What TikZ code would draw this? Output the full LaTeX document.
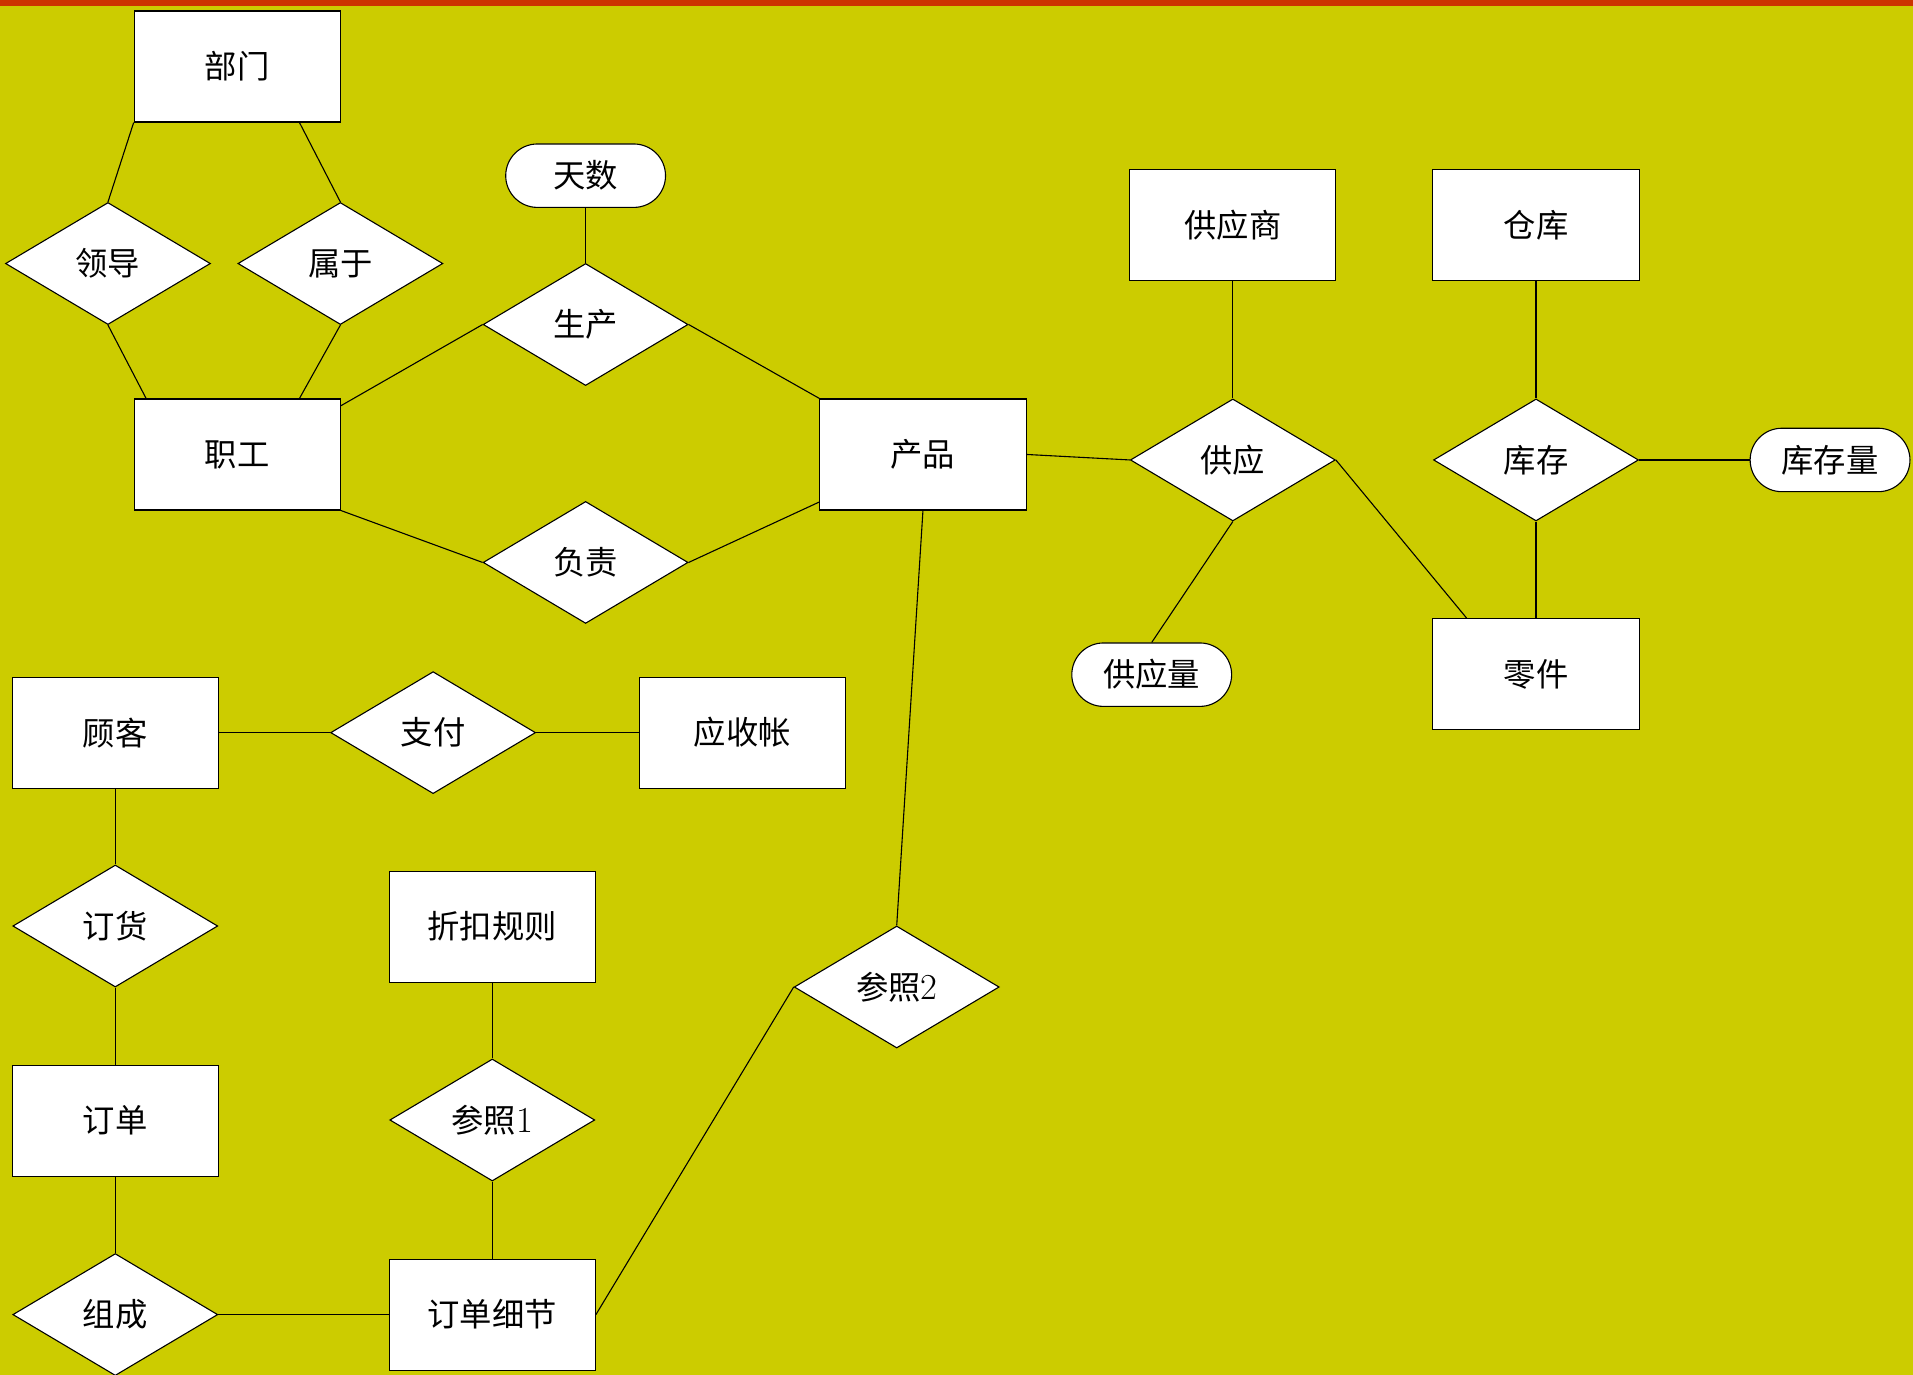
\documentclass[tikz,border=0pt]{standalone}
\usepackage{fontspec}
\newfontfamily\cjk{Noto Sans CJK SC}
\usetikzlibrary{shapes.geometric,shapes.misc,calc}
\definecolor{bgc}{HTML}{CCCC00}
\definecolor{barc}{HTML}{CC3300}
\tikzset{
  base/.style={draw=black, fill=white, line width=0.9pt, inner sep=0pt,
    font=\cjk\fontsize{26.5}{30}\selectfont},
  entity/.style={base, rectangle, minimum width=169pt, minimum height=91pt},
  rel/.style={base, diamond, minimum width=168pt, minimum height=100pt},
  attr/.style={base, rounded rectangle, minimum width=131pt, minimum height=52pt},
  link/.style={draw=black, line width=0.9pt}
}
\newcommand\digit[1]{{\rmfamily\fontsize{30}{30}\selectfont #1}}
\begin{document}
\begin{tikzpicture}[x=1pt,y=-1pt]
\fill[bgc] (0,0) rectangle (1568,1127);
\fill[barc] (0,0) rectangle (1568,5);
\useasboundingbox (0,0) rectangle (1568,1127);

% entities
\node[entity] (bm)  at (194.5,54.5)  {部门};
\node[entity] (zg)  at (194.5,372.5) {职工};
\node[entity] (cp)  at (756.5,372.5) {产品};
\node[entity] (gys) at (1010.5,184.5) {供应商};
\node[entity] (ck)  at (1259,184.5)  {仓库};
\node[entity] (lj)  at (1259,552.5)  {零件};
\node[entity] (gk)  at (94.5,600.5)  {顾客};
\node[entity] (ys)  at (608.5,600.5) {应收帐};
\node[entity] (zk)  at (403.5,759.5) {折扣规则};
\node[entity] (dd)  at (94.5,918.5)  {订单};
\node[entity] (ddx) at (403.5,1077.5) {订单细节};

% relationships
\node[rel] (ld)  at (88.5,216)   {领导};
\node[rel] (sy)  at (279,216)    {属于};
\node[rel] (sc)  at (480,266)    {生产};
\node[rel] (fz)  at (480,461)    {负责};
\node[rel] (gy)  at (1010.5,377) {供应};
\node[rel] (kc)  at (1259,377)   {库存};
\node[rel] (zf)  at (355,600.5)  {支付};
\node[rel] (dh)  at (94.5,759)   {订货};
\node[rel] (cz1) at (403.5,918)  {参照\digit{1}};
\node[rel] (zc)  at (94.5,1077.5) {组成};
\node[rel] (cz2) at (735,809)    {参照\digit{2}};

% attributes
\node[attr] (ts)  at (480,144)   {天数};
\node[attr] (gyl) at (944,553)   {供应量};
\node[attr] (kcl) at (1500,377)  {库存量};

% connectors
\draw[link] (bm.south west) -- (ld.north);
\draw[link] ($(bm.south west)!0.8!(bm.south east)$) -- (sy.north);
\draw[link] (ld.south) -- ($(zg.north west)!0.06!(zg.north east)$);
\draw[link] (sy.south) -- ($(zg.north west)!0.8!(zg.north east)$);
\draw[link] ($(zg.north east)+(0,6)$) -- (sc.west);
\draw[link] (sc.east) -- (cp.north west);
\draw[link] (ts.south) -- (sc.north);
\draw[link] (zg.south east) -- (fz.west);
\draw[link] (fz.east) -- ($(cp.south west)+(0,-7)$);
\draw[link] (cp.south) -- (cz2.north);
\draw[link] (cp.east) -- (gy.west);
\draw[link] (gys.south) -- (gy.north);
\draw[link] (gy.south) -- (gyl.north);
\draw[link] (gy.east) -- ($(lj.north west)+(28,0)$);
\draw[link] (ck.south) -- (kc.north);
\draw[link] (kc.south) -- (lj.north);
\draw[link] (kc.east) -- (kcl.west);
\draw[link] (gk.east) -- (zf.west);
\draw[link] (zf.east) -- (ys.west);
\draw[link] (gk.south) -- (dh.north);
\draw[link] (dh.south) -- (dd.north);
\draw[link] (dd.south) -- (zc.north);
\draw[link] (zc.east) -- (ddx.west);
\draw[link] (zk.south) -- (cz1.north);
\draw[link] (cz1.south) -- (ddx.north);
\draw[link] (ddx.east) -- (cz2.west);
\end{tikzpicture}
\end{document}
